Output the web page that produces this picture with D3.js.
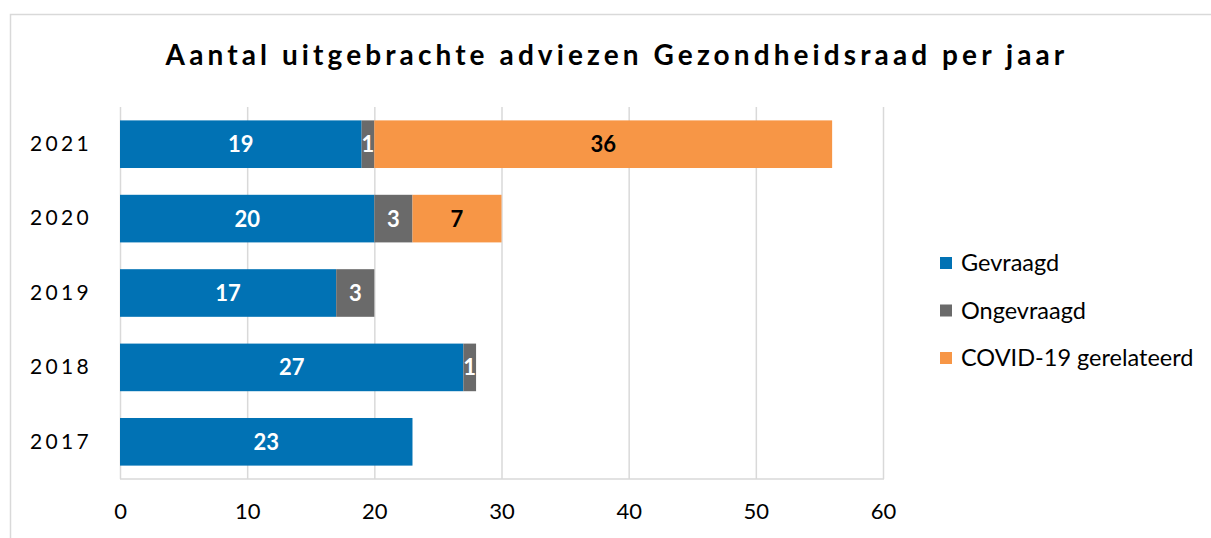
<!DOCTYPE html>
<html>
<head>
<meta charset="utf-8">
<script src="https://cdn.jsdelivr.net/npm/d3@7"></script>
<style>
  body { margin: 0; background: #fff; }
  text { font-family: Lato, "Open Sans", sans-serif; }
</style>
</head>
<body>
<div id="chart"></div>
<script>
const years = ["2021", "2020", "2019", "2018", "2017"];
const gevraagd = [19, 20, 17, 27, 23];
const ongevraagd = [1, 3, 3, 1, 0];
const covid = [36, 7, 0, 0, 0];
const seriesNames = ["Gevraagd", "Ongevraagd", "COVID-19 gerelateerd"];
const seriesColors = ["#0172b4", "#6a6a6a", "#f79646"];
const labelColors = ["#fff", "#fff", "#000"];
const xTicks = [0, 10, 20, 30, 40, 50, 60];

const W = 1211, H = 538;
const plot = { left: 120, right: 883, top: 107, bottom: 479 };

const svg = d3.select("#chart").append("svg")
  .attr("width", W).attr("height", H);

// chart frame
svg.append("rect")
  .attr("x", 10.5).attr("y", 14.5)
  .attr("width", W + 20).attr("height", H + 20)
  .attr("fill", "none").attr("stroke", "#d9d9d9").attr("stroke-width", 1.5);

svg.append("text")
  .attr("x", 617).attr("y", 65)
  .attr("text-anchor", "middle")
  .attr("font-size", 28).attr("font-weight", "bold")
  .attr("letter-spacing", 4.1)
  .text("Aantal uitgebrachte adviezen Gezondheidsraad per jaar");

const x = d3.scaleLinear().domain([0, 60]).range([plot.left, plot.right]);
const y = d3.scaleBand().domain(years).range([plot.top, plot.bottom])
  .paddingInner(0.36).paddingOuter(0.18);

// gridlines
svg.append("g").selectAll("line").data(xTicks).join("line")
  .attr("x1", d => x(d) + 0.5).attr("x2", d => x(d) + 0.5)
  .attr("y1", plot.top).attr("y2", plot.bottom)
  .attr("stroke", "#d9d9d9").attr("stroke-width", 1.5);
svg.append("line")
  .attr("x1", plot.left).attr("x2", plot.right + 1)
  .attr("y1", plot.bottom).attr("y2", plot.bottom)
  .attr("stroke", "#d9d9d9").attr("stroke-width", 1.5);

const xAxis = svg.append("g")
  .attr("transform", `translate(0,${plot.bottom})`)
  .call(d3.axisBottom(x).tickValues(xTicks).tickSize(0).tickPadding(24));
xAxis.select(".domain").remove();
xAxis.selectAll("text").attr("font-size", 22).attr("fill", "#000")
  .style("font-family", "Lato, sans-serif");

const yAxis = svg.append("g")
  .attr("transform", `translate(${plot.left},0)`)
  .call(d3.axisLeft(y).tickSize(0).tickPadding(28));
yAxis.select(".domain").remove();
yAxis.selectAll("text").attr("font-size", 21).attr("fill", "#000")
  .attr("letter-spacing", 3.3)
  .style("font-family", "Lato, sans-serif");

const rows = years.map((yr, i) => ({ year: yr, vals: [gevraagd[i], ongevraagd[i], covid[i]] }));
const stack = d3.stack().keys([0, 1, 2]).value((d, k) => d.vals[k]);
const layers = stack(rows);

layers.forEach((layer, k) => {
  const g = svg.append("g");
  g.selectAll("rect").data(layer).join("rect")
    .attr("x", d => x(d[0]))
    .attr("y", d => y(d.data.year))
    .attr("width", d => x(d[1]) - x(d[0]))
    .attr("height", y.bandwidth())
    .attr("fill", seriesColors[k]);
  g.selectAll("text").data(layer.filter(d => d[1] - d[0] > 0)).join("text")
    .attr("x", d => (x(d[0]) + x(d[1])) / 2)
    .attr("y", d => y(d.data.year) + y.bandwidth() / 2)
    .attr("dy", "0.36em")
    .attr("text-anchor", "middle")
    .attr("font-size", 22).attr("font-weight", "bold")
    .attr("fill", labelColors[k])
    .text(d => d[1] - d[0]);
});

// legend
const legend = svg.append("g").attr("transform", "translate(940,263)");
seriesNames.forEach((name, i) => {
  const row = legend.append("g").attr("transform", `translate(0,${i * 47.5})`);
  row.append("rect").attr("x", 0).attr("y", -6).attr("width", 12).attr("height", 12)
    .attr("fill", seriesColors[i]);
  row.append("text").attr("x", 21).attr("y", 0).attr("dy", "0.36em")
    .attr("font-size", 23.5).attr("fill", "#000").text(name);
});
</script>
</body>
</html>
